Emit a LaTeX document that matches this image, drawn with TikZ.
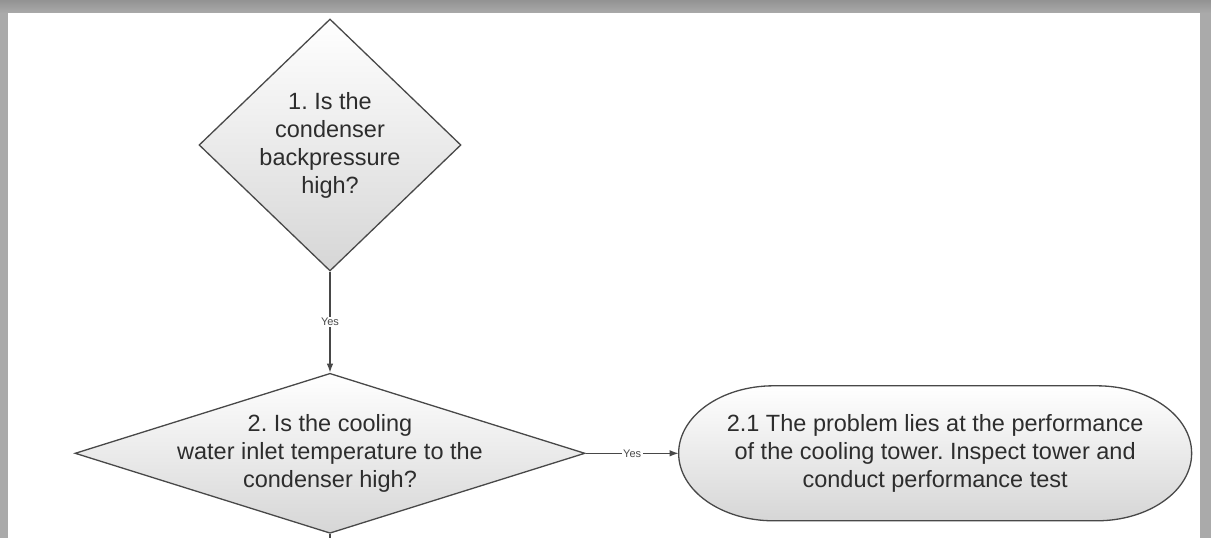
\documentclass[tikz,border=0pt]{standalone}
\usepackage{fontspec}
\setmainfont{Liberation Sans}
\usetikzlibrary{arrows.meta,positioning,shapes.geometric,backgrounds}
\definecolor{edge}{RGB}{72,72,72}
\definecolor{ink}{RGB}{45,45,45}
\definecolor{shade}{RGB}{214,214,214}
\definecolor{frame}{RGB}{170,170,170}
\frenchspacing

\begin{document}
\begin{tikzpicture}[x=1pt,y=1pt,node distance=101pt and 93pt,>={Latex[length=9pt,width=6.5pt]},
every node/.style={font=\fontsize{23.5}{28}\selectfont,text=ink},
decision/.style={diamond,draw=edge,line width=1.3pt,top color=white,bottom color=shade,align=center,inner sep=0pt},
terminal/.style={align=center,minimum width=513pt,minimum height=135pt,outer sep=0pt},
arr/.style={->,line width=1.3pt,edge},
yes/.style={fill=white,inner sep=1.5pt,font=\fontsize{11}{13}\selectfont,text=edge}]
\useasboundingbox (0,0) rectangle (1211,-538);
\node[decision,minimum width=262pt,minimum height=252pt] (backpressure) at (330,-145) {1. Is the\\condenser\\backpressure\\high?};
\node[decision,below=of backpressure,shape aspect=3.19,inner xsep=-15pt,inner ysep=-10pt,minimum width=510pt,minimum height=160pt] (inlet) {2. Is the cooling\\water inlet temperature to the\\condenser high?};
\node[terminal,right=of inlet] (tower) {2.1 The problem lies at the performance\\of the cooling tower. Inspect tower and\\conduct performance test};
\coordinate[below=30pt of inlet.south] (next);
\draw[arr] (backpressure) -- node[yes] {Yes} (inlet);
\draw[arr] (inlet) -- node[yes] {Yes} (tower);
\draw[line width=1.3pt,edge] (inlet) -- (next);
\begin{scope}[on background layer]
\fill[frame] (0,0) rectangle (1211,-538);
\shade[top color=gray!85,bottom color=frame] (0,0) rectangle (1211,-13);
\fill[white] (8,-13) rectangle (1200,-538);
\draw[line width=1.3pt,draw=edge,top color=white,bottom color=shade] ([xshift=95pt]tower.north west) -- ([xshift=-95pt]tower.north east) arc[start angle=90,end angle=-90,x radius=95pt,y radius=67.5pt] -- ([xshift=95pt]tower.south west) arc[start angle=270,end angle=90,x radius=95pt,y radius=67.5pt] -- cycle;
\end{scope}
\end{tikzpicture}
\end{document}
